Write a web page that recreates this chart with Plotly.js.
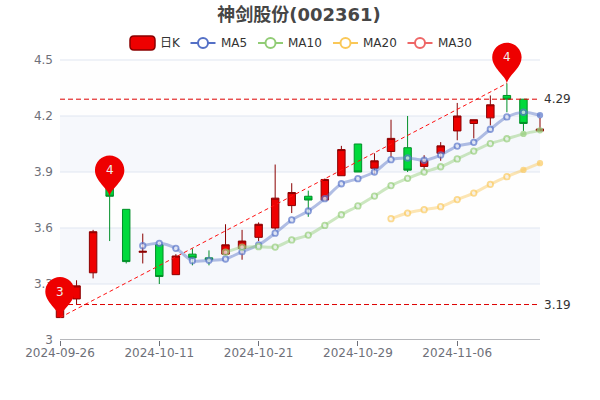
<!DOCTYPE html>
<html><head><meta charset="utf-8">
<script src="https://cdn.plot.ly/plotly-3.0.1.min.js"></script>
<style>html,body{margin:0;padding:0;background:#fff}#c{width:600px;height:400px}</style>
</head><body><div id="c"></div>
<script>
const dates = ["2024-09-26","2024-09-27","2024-09-30","2024-10-08","2024-10-09","2024-10-10","2024-10-11","2024-10-14","2024-10-15","2024-10-16","2024-10-17","2024-10-18","2024-10-21","2024-10-22","2024-10-23","2024-10-24","2024-10-25","2024-10-28","2024-10-29","2024-10-30","2024-10-31","2024-11-01","2024-11-04","2024-11-05","2024-11-06","2024-11-07","2024-11-08","2024-11-11","2024-11-12","2024-11-13"];
const xTicks = ["2024-09-26","2024-10-11","2024-10-21","2024-10-29","2024-11-06"];
const yTicks = [3,3.3,3.6,3.9,4.2,4.5];
const yTickText = ["3","3.3","3.6","3.9","4.2","4.5"];
const opens  = [3.12,3.22,3.36,3.92,3.70,3.47,3.51,3.35,3.46,3.44,3.46,3.49,3.55,3.60,3.72,3.77,3.75,3.88,4.05,3.92,4.01,4.03,3.93,4.00,4.12,4.16,4.19,4.31,4.29,4.12];
const closes = [3.25,3.29,3.58,3.77,3.42,3.475,3.34,3.45,3.44,3.43,3.51,3.53,3.62,3.76,3.79,3.75,3.86,4.02,3.90,3.96,4.08,3.91,3.96,4.04,4.20,4.18,4.26,4.29,4.16,4.13];
const lows   = [3.12,3.19,3.33,3.53,3.41,3.41,3.30,3.35,3.40,3.40,3.455,3.43,3.53,3.59,3.68,3.66,3.75,3.88,3.90,3.89,3.98,3.90,3.91,3.96,4.07,4.08,4.15,4.22,4.12,4.12];
const highs  = [3.26,3.32,3.59,3.95,3.70,3.57,3.52,3.46,3.49,3.48,3.62,3.59,3.63,3.94,3.84,3.80,3.865,4.04,4.05,4.00,4.18,4.20,3.99,4.06,4.27,4.18,4.31,4.375,4.29,4.19];
const ma5  = [null,null,null,null,null,3.505,3.518,3.491,3.425,3.427,3.434,3.473,3.509,3.572,3.643,3.691,3.757,3.837,3.864,3.90,3.966,3.975,3.963,3.991,4.039,4.059,4.129,4.195,4.22,4.204];
const ma10 = [null,null,null,null,null,null,null,null,null,null,3.47,3.497,3.50,3.498,3.536,3.562,3.614,3.671,3.718,3.771,3.827,3.866,3.90,3.928,3.97,4.012,4.052,4.078,4.104,4.123];
const ma20 = [null,null,null,null,null,null,null,null,null,null,null,null,null,null,null,null,null,null,null,null,3.65,3.68,3.698,3.714,3.752,3.787,3.834,3.875,3.911,3.947];
const ma30 = dates.map(()=>null);
const pinDates = ["2024-09-26","2024-10-08","2024-11-11"];
const pinValues = [3.12,3.77,4.375];
const pinLabels = ["3","4","4"];
const levelValues = [3.19,4.29];
const levelLabels = ["3.19","4.29"];
const trendDates = ["2024-09-26","2024-11-11"];
const trendValues = [3.12,4.375];
// number of trailing points drawn as small solid dots
const solidTail = {ma5:1, ma10:2, ma20:2};

const RED="#ee0000",REDB="#8a0000",GRN="#00da3c",GRNB="#008f28";
const ml=44,mr=56,mt=40,mb=60,W=600,H=400;
const px=x=>(x-ml)/(W-ml-mr), py=y=>1-(y-mt)/(H-mt-mb);
const first=dates[0], last=dates[dates.length-1];
const FONT='"DejaVu Sans","Noto Sans CJK SC",sans-serif';

const shapes=[];
for(let i=0;i<yTicks.length-1;i++){
  shapes.push({type:'rect',layer:'below',xref:'x',yref:'y',x0:first,x1:last,y0:yTicks[i],y1:yTicks[i+1],
    line:{width:0},fillcolor:i%2?'rgba(210,219,238,0.2)':'rgba(250,250,250,0.2)'});
}
yTicks.slice(1).forEach(v=>shapes.push({type:'line',layer:'below',xref:'x',yref:'y',x0:first,x1:last,y0:v,y1:v,line:{color:'#e0e6f1',width:1}}));
shapes.push({type:'line',layer:'below',xref:'x',yref:'y',x0:first,x1:last,y0:yTicks[0],y1:yTicks[0],line:{color:'#6e7079',width:1}});
levelValues.forEach(v=>shapes.push({type:'line',layer:'above',xref:'x',yref:'y',x0:first,x1:last,y0:v,y1:v,line:{color:'#dd0000',width:1,dash:'5px,3px'}}));
const pinPath='M 0 0 C -1.5 8 -14.7 15 -14.7 26 C -14.7 34.1 -8.1 40.7 0 40.7 C 8.1 40.7 14.7 34.1 14.7 26 C 14.7 15 1.5 8 0 0 Z';
pinDates.forEach((d,i)=>shapes.push({type:'path',layer:'above',xref:'x',yref:'y',xsizemode:'pixel',ysizemode:'pixel',xanchor:d,yanchor:pinValues[i],path:pinPath,fillcolor:RED,line:{width:0}}));
const r=(x0,y0,x1,y1,c)=>{const X=v=>px(v).toFixed(5),Y=v=>py(v).toFixed(5);
  return `M ${X(x0+c)} ${Y(y0)} L ${X(x1-c)} ${Y(y0)} Q ${X(x1)} ${Y(y0)} ${X(x1)} ${Y(y0+c)} L ${X(x1)} ${Y(y1-c)} Q ${X(x1)} ${Y(y1)} ${X(x1-c)} ${Y(y1)} L ${X(x0+c)} ${Y(y1)} Q ${X(x0)} ${Y(y1)} ${X(x0)} ${Y(y1-c)} L ${X(x0)} ${Y(y0+c)} Q ${X(x0)} ${Y(y0)} ${X(x0+c)} ${Y(y0)} Z`;};
shapes.push({type:'path',xref:'paper',yref:'paper',path:r(130,36,155,50,4),fillcolor:RED,line:{color:REDB,width:1.5},layer:'above'});
const legendItems=[["MA5","#5470c6",203,218.5],["MA10","#91cc75",270.5,286],["MA20","#fac858",345.5,360.5],["MA30","#ee6666",420,435.5]];
const annotations=[{xref:'paper',yref:'paper',x:px(158),y:py(43),xanchor:'left',yanchor:'middle',text:'日K',showarrow:false,font:{size:12,color:'#333',family:FONT}}];
legendItems.forEach(([n,c,cx,tx])=>{
  shapes.push({type:'line',layer:'above',xref:'paper',yref:'paper',x0:px(cx-12.5),x1:px(cx+12.5),y0:py(43),y1:py(43),line:{color:c,width:2}});
  shapes.push({type:'circle',layer:'above',xref:'paper',yref:'paper',x0:px(cx-5),x1:px(cx+5),y0:py(38),y1:py(48),fillcolor:'#fff',line:{color:c,width:2}});
  annotations.push({xref:'paper',yref:'paper',x:px(tx),y:py(43),xanchor:'left',yanchor:'middle',text:n,showarrow:false,font:{size:12,color:'#333',family:FONT}});
});
pinDates.forEach((d,i)=>annotations.push({xref:'x',yref:'y',x:d,y:pinValues[i],yshift:26,text:pinLabels[i],showarrow:false,xanchor:'center',yanchor:'middle',font:{size:12,color:'#eee',family:FONT}}));
levelValues.forEach((v,i)=>annotations.push({xref:'x',yref:'y',x:last,y:v,xshift:2,text:levelLabels[i],showarrow:false,xanchor:'left',yanchor:'middle',font:{size:12,color:'#333',family:FONT}}));

const ma=(y,lineC,c,tail,n)=>({type:'scatter',mode:'lines+markers',x:dates,y,name:n,connectgaps:false,cliponaxis:false,hoverinfo:'skip',
  line:{color:lineC,width:3,shape:'spline',smoothing:0.8},
  marker:{size:y.map((_,i)=>i>=y.length-tail?4.5:5.5),color:y.map((_,i)=>i>=y.length-tail?c:'#f4f6fb'),line:{color:c,width:1.8}}});
const traces=[
 {type:'candlestick',x:dates,open:opens,close:closes,low:lows,high:highs,name:'日K',whiskerwidth:0,hoverinfo:'skip',
  increasing:{fillcolor:RED,line:{color:REDB,width:1}},decreasing:{fillcolor:GRN,line:{color:GRNB,width:1}}},
 {type:'scatter',mode:'lines',x:trendDates,y:trendValues,hoverinfo:'skip',line:{color:'#ff1010',width:1,dash:'4px,3px'}},
 ma(ma5,'rgba(84,112,198,0.45)','#5b77cb',solidTail.ma5,'MA5'),
 ma(ma10,'rgba(145,204,117,0.45)','#97cf7c',solidTail.ma10,'MA10'),
 ma(ma20,'rgba(250,200,88,0.45)','#fbcb62',solidTail.ma20,'MA20'),
 ma(ma30,'rgba(238,102,102,0.45)','#ee6666',0,'MA30')
];
const layout={width:W,height:H,margin:{l:ml,r:mr,t:mt,b:mb,pad:0},paper_bgcolor:'#fff',plot_bgcolor:'rgba(0,0,0,0)',showlegend:false,boxgap:0.55,boxgroupgap:0,
 font:{family:FONT,size:12,color:'#6e7079'},
 title:{text:'神剑股份(002361)',xref:'container',yref:'container',x:299/600,y:1-15/400,xanchor:'center',yanchor:'middle',font:{size:18,color:'#464646',family:FONT,weight:700}},
 xaxis:{type:'category',categoryorder:'array',categoryarray:dates,range:[(ml-60)/16.552,29+(544-540)/16.552],fixedrange:true,rangeslider:{visible:false},
  tickmode:'array',tickvals:xTicks,ticktext:xTicks,tickangle:0,ticks:'outside',ticklen:5,tickcolor:'#6e7079',tickwidth:1,ticklabelstandoff:-3,showgrid:false,zeroline:false,showline:false,tickfont:{size:12,color:'#6e7079',family:FONT}},
 yaxis:{range:[3,4.6071],fixedrange:true,tickmode:'array',tickvals:yTicks,ticktext:yTickText,showgrid:false,zeroline:false,showline:false,ticks:'',ticklabelstandoff:-10,tickfont:{size:12,color:'#6e7079',family:FONT}},
 shapes,annotations};
Plotly.newPlot('c',traces,layout,{staticPlot:true,displayModeBar:false});
</script></body></html>
